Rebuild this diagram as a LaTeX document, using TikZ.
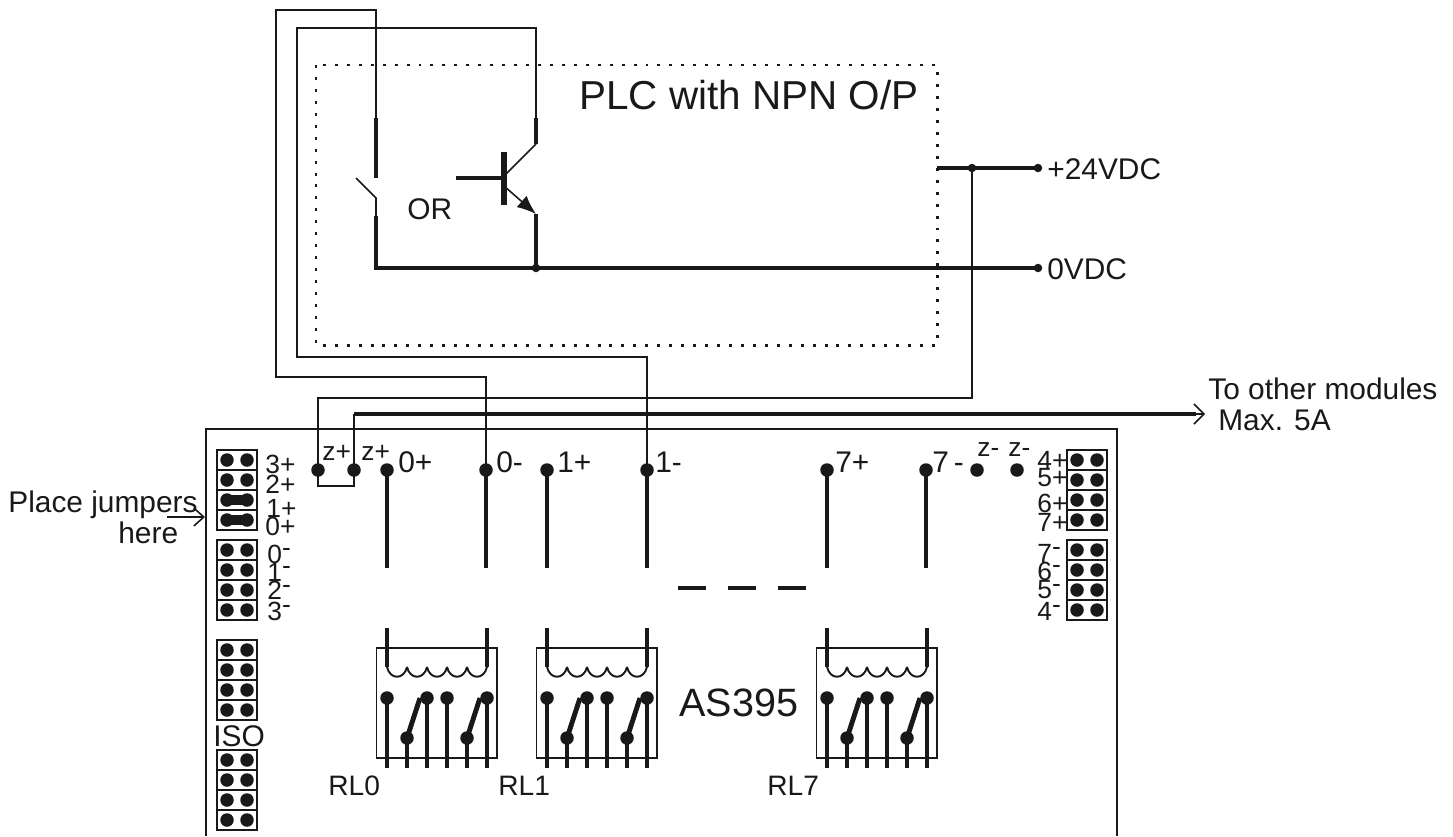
\documentclass[tikz,border=0pt]{standalone}
\usepackage{fontspec}
\setmainfont{Liberation Sans}
\usetikzlibrary{arrows.meta}
\newcommand{\updash}{\raisebox{3.5pt}{-}}
\tikzset{
    thinw/.style={line width=0.9pt,draw=black!90},
    thickw/.style={line width=1.8pt,draw=black!90},
    pindot/.style={circle,fill=black!90,inner sep=0pt,minimum size=0.27cm},
    smalldot/.style={circle,fill=black!90,inner sep=0pt,minimum size=0.17cm},
    lab/.style={anchor=west,inner sep=0pt,font=\fontsize{17}{19}\selectfont,text=black!90},
    hdrlab/.style={lab,font=\fontsize{15}{16}\selectfont},
    smalllab/.style={lab,font=\fontsize{15}{17}\selectfont},
    biglab/.style={lab,font=\fontsize{23}{26}\selectfont},
    hdrbox/.style={draw=black!90,line width=0.9pt}
}
\begin{document}
\begin{tikzpicture}[x=0.02cm,y=-0.02cm]
    \useasboundingbox(0,0)rectangle(1453,836);

    %board and PLC outline
    \draw[thinw](206,836)--(206,429)--(1117,429)--(1117,836);
    \draw[line width=1.7pt,dash pattern=on 1.7pt off 5.1pt,draw=black!90](316,65)rectangle(937,345);
    \node[biglab](plc)at(579,95){PLC with NPN O/P};
    \node[biglab,font=\fontsize{22.5}{26}\selectfont](card)at(679,703){AS395};

    %supply
    \node[smalldot](vp)at(1038,168){};
    \node[smalldot](vj)at(972,168){};
    \node[smalldot](vn)at(1038,268){};
    \node[smalldot](ve)at(536,268){};
    \coordinate(vb)at(376,268);
    \coordinate(vb2)at(937,168);
    \node[lab](vptext)at(1047,169){+24VDC};
    \node[lab](vntext)at(1047,269){0VDC};
    \draw[thickw](vb)--(ve.center)--(vn.center);
    \draw[thickw](vb2)--(vj.center)--(vp.center);

    %switch
    \coordinate(swa)at(376,118);
    \coordinate(swb)at(376,178);
    \coordinate(swc)at(356,178);
    \coordinate(swd)at(376,198);
    \coordinate(swe)at(376,218);
    \draw[thickw](swa)--(swb);
    \draw[thinw](swc)--(swd)--(swe);
    \draw[thickw,line cap=rect](swe)--(vb);
    \node[lab](ortext)at(407,209){OR};

    %transistor
    \coordinate(bas)at(456,178);
    \coordinate(bar)at(504,178);
    \coordinate(cola)at(504,176);
    \coordinate(colb)at(536,144);
    \coordinate(colc)at(536,118);
    \coordinate(emia)at(504,186);
    \coordinate(emib)at(536,214);
    \draw[line width=3.4pt,draw=black!90](504,152)--(504,205);
    \draw[thickw](bas)--(bar);
    \draw[thinw](cola)--(colb);
    \draw[thickw](colb)--(colc);
    \draw[thinw,-{Latex[length=0.38cm,width=0.3cm]}](emia)--(emib);
    \draw[thickw](emib)--(ve.center);

    %terminals
    \foreach \tx/\tn in {318/za,354/zb,387/0p,486/0m,547/1p,647/1m,827/7p,926/7m,977/zc,1017/zd}{
        \node[pindot](t\tn)at(\tx,470){};
    }
    \node[smalllab](lza)at(322,453){z+};
    \node[smalllab](lzb)at(361,453){z+};
    \node[lab](l0p)at(398,462){0+};
    \node[lab](l0m)at(496,462){0-};
    \node[lab](l1p)at(557,462){1+};
    \node[lab](l1m)at(655,462){1-};
    \node[lab](l7p)at(835,462){7+};
    \node[lab](l7m)at(932,462){7\,-};
    \node[smalllab](lzc)at(977,450){z-};
    \node[smalllab](lzd)at(1008,450){z-};

    %wires to the PLC
    \draw[thinw](swa)--(376,10)--(276,10)--(276,377)--(486,377)--(t0m.center);
    \draw[thinw](colc)--(536,28)--(297,28)--(297,357)--(647,357)--(t1m.center);
    \draw[thinw](vj.center)--(972,398)--(318,398)--(tza.center);
    \draw[thinw](tza.center)--(318,486)--(354,486)--(tzb.center);
    \coordinate(other)at(1205,414);
    \draw[thickw](354,414)--(1196,414);
    \draw[thinw](tzb.center)--(354,414);
    \draw[thinw,-{Straight Barb[length=0.2cm,width=0.4cm]}](1190,414)--(other);
    \node[lab](otext)at(1208,389){To other modules};
    \node[lab](mtext)at(1218,420){Max. 5A};

    %relays
    \foreach \rx/\rn in {387/0,547/1,827/7}{
        \draw[hdrbox]({\rx-10.5},648)rectangle({\rx+110},758);
        \node[pindot](a\rn)at(\rx,698){};
        \node[pindot](b\rn)at({\rx+40},698){};
        \node[pindot](c\rn)at({\rx+60},698){};
        \node[pindot](d\rn)at({\rx+100},698){};
        \node[pindot](e\rn)at({\rx+20},738){};
        \node[pindot](f\rn)at({\rx+80},738){};
        \draw[thickw](a\rn.center)--(\rx,768);
        \draw[thickw](b\rn.center)--({\rx+40},768);
        \draw[thickw](c\rn.center)--({\rx+60},768);
        \draw[thickw](d\rn.center)--({\rx+100},768);
        \draw[thickw](e\rn.center)--({\rx+20},768);
        \draw[thickw](f\rn.center)--({\rx+80},768);
        \draw[line width=2.8pt,draw=black!90](e\rn.center)--({\rx+33},698);
        \draw[line width=2.8pt,draw=black!90](f\rn.center)--({\rx+93},698);
        \draw[thickw](\rx,628)--(\rx,667);
        \draw[thickw]({\rx+100},628)--({\rx+100},667);
        \foreach \k in {0,20,40,60,80}{
            \draw[line width=1.1pt,draw=black!90]({\rx+\k},667)..controls({\rx+\k+3},680)and({\rx+\k+17},680)..({\rx+\k+20},667);
        }
    }
    \draw[thickw](t0p.center)--(387,568);
    \draw[thickw](t0m.center)--(486,568);
    \draw[thickw](t1p.center)--(547,568);
    \draw[thickw](t1m.center)--(647,568);
    \draw[thickw](t7p.center)--(827,568);
    \draw[thickw](t7m.center)--(926,568);
    \node[lab,font=\fontsize{16}{18}\selectfont](rl0)at(328,786){RL0};
    \node[lab,font=\fontsize{16}{18}\selectfont](rl1)at(498,786){RL1};
    \node[lab,font=\fontsize{16}{18}\selectfont](rl7)at(767,786){RL7};
    \foreach \dx in {678,728,778}{
        \draw[thickw](\dx,588)--({\dx+28},588);
    }

    %jumper headers
    \foreach \hx/\hy/\hn in {217/450/la,217/540/lb,217/640/lc,217/750/ld,1067/450/ra,1067/540/rb}{
        \foreach \i in {0,1,2,3}{
            \draw[hdrbox](\hx,{\hy+20*\i})rectangle({\hx+40},{\hy+20*\i+20});
            \node[pindot](\hn\i a)at({\hx+10},{\hy+20*\i+10}){};
            \node[pindot](\hn\i b)at({\hx+30},{\hy+20*\i+10}){};
        }
    }
    \draw[line width=5.6pt,draw=black!90](la2a.center)--(la2b.center);
    \draw[line width=5.6pt,draw=black!90](la3a.center)--(la3b.center);
    \node[lab](iso)at(213,736){ISO};

    \node[hdrlab](h3p)at(265,464){3+};
    \node[hdrlab](h2p)at(265,484){2+};
    \node[hdrlab](h1p)at(266,508){1+};
    \node[hdrlab](h0p)at(265,526){0+};
    \node[hdrlab](h0m)at(267,554){0\updash};
    \node[hdrlab](h1m)at(267,572){1\updash};
    \node[hdrlab](h2m)at(267,590){2\updash};
    \node[hdrlab](h3m)at(267,611){3\updash};
    \node[hdrlab](h4p)at(1037,460){4+};
    \node[hdrlab](h5p)at(1037,478){5+};
    \node[hdrlab](h6p)at(1037,503){6+};
    \node[hdrlab](h7p)at(1037,522){7+};
    \node[hdrlab](h7m)at(1037,553){7\updash};
    \node[hdrlab](h6m)at(1037,571){6\updash};
    \node[hdrlab](h5m)at(1037,590){5\updash};
    \node[hdrlab](h4m)at(1037,611){4\updash};

    %jumper note
    \node[lab](ptext)at(8,505){Place jumpers};
    \node[lab](htext)at(118,533){here};
    \coordinate(arra)at(167,517);
    \coordinate(arrb)at(205,517);
    \draw[thinw,-{Straight Barb[length=0.2cm,width=0.36cm]}](arra)--(arrb);
\end{tikzpicture}
\end{document}
